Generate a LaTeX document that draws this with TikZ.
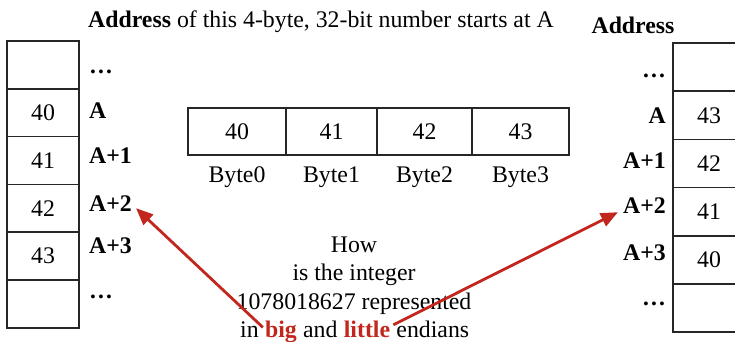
\documentclass[tikz,border=0pt]{standalone}
\usepackage{fontspec}
\setmainfont{Liberation Serif}
\usetikzlibrary{arrows.meta,calc}
\definecolor{endianred}{HTML}{C1271D}
\begin{document}
\begin{tikzpicture}[x=1pt,y=-1pt,
  font=\fontsize{23.8}{28}\selectfont,
  cell/.style={draw=black!85, line width=1.4pt, minimum width=72pt, minimum height=48pt, inner sep=0pt},
  bytecell/.style={draw=black!85, line width=1.4pt, minimum height=47pt, inner sep=0pt},
  lbl/.style={inner sep=0pt, font=\fontsize{23.8}{28}\selectfont\bfseries},
  txt/.style={inner sep=0pt, anchor=base},
  pointer/.style={draw=endianred, line width=2.8pt, -{Triangle[length=17pt,width=14pt]}}]
\useasboundingbox (0,0) rectangle (735,341);

% title
\node[txt, anchor=base west] (title) at (88,27) {\textbf{Address} of this 4-byte, 32-bit number starts at A};

% big-endian memory column (left)
\foreach \i/\v in {0/,1/40,2/41,3/42,4/43,5/} {
  \node[cell] (L\i) at (43, 41+47.8*\i+23.9) {\v};
}
\node[lbl, anchor=base west] (La) at (89,73)  {\dots};
\node[lbl, anchor=base west] (Lb) at (89,118) {A};
\node[lbl, anchor=base west] (Lc) at (89,163) {A+1};
\node[lbl, anchor=base west] (Ld) at (89,211) {A+2};
\node[lbl, anchor=base west] (Le) at (89,253) {A+3};
\node[lbl, anchor=base west] (Lf) at (89,298) {\dots};

% little-endian memory column (right)
\node[lbl, anchor=base] (addr) at (633,33) {Address};
\foreach \i/\v in {0/,1/43,2/42,3/41,4/40,5/} {
  \node[cell] (R\i) at (709, 43+48.2*\i+24.1) {\v};
}
\node[lbl, anchor=base east] (Ra) at (666,77)  {\dots};
\node[lbl, anchor=base east] (Rb) at (666,123) {A};
\node[lbl, anchor=base east] (Rc) at (666,168) {A+1};
\node[lbl, anchor=base east] (Rd) at (666,213) {A+2};
\node[lbl, anchor=base east] (Re) at (666,260) {A+3};
\node[lbl, anchor=base east] (Rf) at (666,305) {\dots};

% the four bytes of the number
\node[bytecell, minimum width=98pt] (B0) at (237,131.5)   {40};
\node[bytecell, minimum width=91pt] (B1) at (331.5,131.5) {41};
\node[bytecell, minimum width=95pt] (B2) at (424.5,131.5) {42};
\node[bytecell, minimum width=97pt] (B3) at (520.5,131.5) {43};
\node[txt] (N0) at (237,182)   {Byte0};
\node[txt] (N1) at (331.5,182) {Byte1};
\node[txt] (N2) at (424.5,182) {Byte2};
\node[txt] (N3) at (520.5,182) {Byte3};

% question
\node[txt] (q1) at (354,252) {How};
\node[txt] (q2) at (354,280) {is the integer};
\node[txt] (q3) at (354,309) {1078018627 represented};
\node[txt, anchor=base west] (w1) at (240,337) {in};
\node[txt, anchor=base west, text=endianred, font=\fontsize{23.8}{28}\selectfont\bfseries] (big) at ([xshift=5.95pt]w1.base east) {big};
\node[txt, anchor=base west] (w3) at ([xshift=5.95pt]big.base east) {and};
\node[txt, anchor=base west, text=endianred, font=\fontsize{23.8}{28}\selectfont\bfseries] (little) at ([xshift=5.95pt]w3.base east) {little};
\node[txt, anchor=base west] (w5) at ([xshift=5.95pt]little.base east) {endians};

% pointers
\draw[pointer] ([xshift=-2pt,yshift=4pt]big.west) -- ([xshift=4pt,yshift=3pt]Ld.south east);
\draw[pointer] ([xshift=3pt,yshift=4pt]little.east) -- ([xshift=-5pt,yshift=1pt]Rd.south west);
\end{tikzpicture}
\end{document}
